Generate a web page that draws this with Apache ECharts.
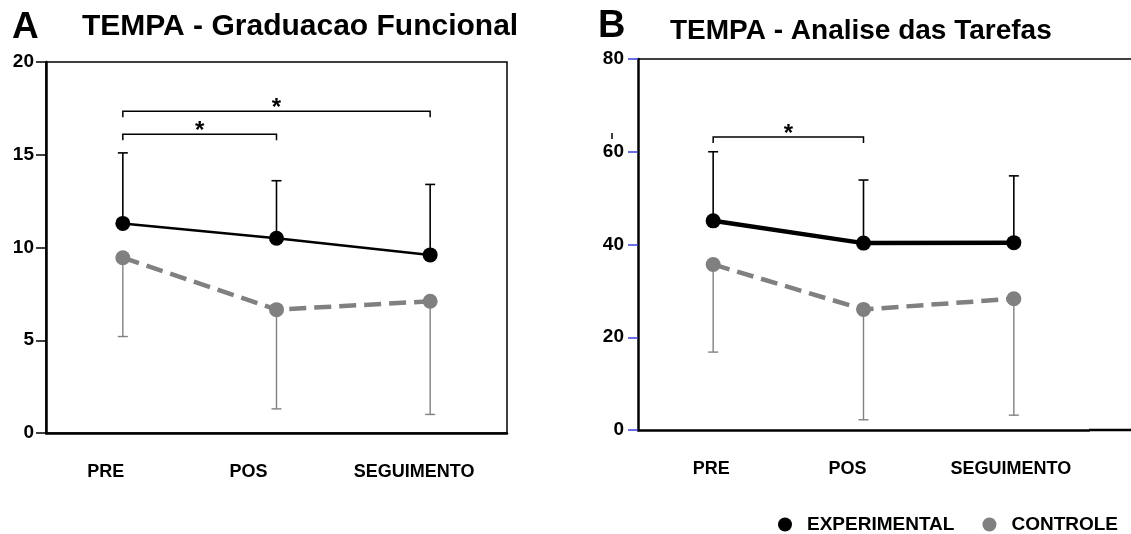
<!DOCTYPE html>
<html>
<head>
<meta charset="utf-8">
<script src="https://cdn.jsdelivr.net/npm/echarts@6/dist/echarts.min.js"></script>
<style>
  html, body { margin: 0; padding: 0; background: #fff; }
  #chart { width: 1131px; height: 534px; }
</style>
</head>
<body>
<div id="chart"></div>
<script>
var categories = ['PRE', 'POS', 'SEGUIMENTO'];

// painel A - Graduacao Funcional
var expA = [11.3, 10.5, 9.6];
var expA_sd = [15.1, 13.6, 13.4];     // topo da barra de erro
var ctlA = [9.45, 6.65, 7.1];
var ctlA_sd = [5.2, 1.3, 1.0];        // base da barra de erro
var sigA = [[0, 2, 17.35], [0, 1, 16.1]];
var ticksA = [0, 5, 10, 15, 20];

// painel B - Analise das Tarefas
var expB = [45.1, 40.3, 40.4];
var expB_sd = [60.0, 53.9, 54.8];
var ctlB = [35.7, 26.0, 28.3];
var ctlB_sd = [16.8, 2.2, 3.2];
var sigB = [[0, 1, 63.2]];
var ticksB = [0, 20, 40, 60, 80];

var FONT = '"Liberation Sans", Arial, sans-serif';
var GREY = '#808080';

function errData(mean, end) {
  return mean.map(function (m, i) { return [i, m, end[i]]; });
}

function errorBar(color, width, half) {
  return function (params, api) {
    var p1 = api.coord([api.value(0), api.value(1)]);
    var p2 = api.coord([api.value(0), api.value(2)]);
    return {
      type: 'group',
      children: [
        { type: 'line', shape: { x1: p1[0], y1: p1[1], x2: p2[0], y2: p2[1] },
          style: { stroke: color, lineWidth: width } },
        { type: 'line', shape: { x1: p2[0] - half, y1: p2[1], x2: p2[0] + half, y2: p2[1] },
          style: { stroke: color, lineWidth: width } }
      ]
    };
  };
}

function bracket(params, api) {
  var a = api.coord([api.value(0), api.value(2)]);
  var b = api.coord([api.value(1), api.value(2)]);
  var drop = 6;
  return {
    type: 'group',
    children: [
      { type: 'polyline',
        shape: { points: [[a[0], a[1] + drop], [a[0], a[1]], [b[0], a[1]], [b[0], a[1] + drop]] },
        style: { stroke: '#000', lineWidth: 1.5, fill: null } },
      { type: 'text',
        style: { x: (a[0] + b[0]) / 2, y: a[1] - 3, text: '*', align: 'center', verticalAlign: 'middle',
                 font: 'bold 24px ' + FONT, fill: '#000' } }
    ]
  };
}

// os rotulos do original nao ficam bem centrados: deslocamento para a esquerda (px)
function xAxis(idx, shift) {
  var rich = {};
  shift.forEach(function (s, i) {
    rich['s' + i] = { padding: [0, 2 * s, 0, 0], color: '#000', fontFamily: FONT, fontWeight: 'bold', fontSize: 18 };
  });
  return {
    type: 'category', gridIndex: idx, data: categories, boundaryGap: true,
    axisLine: { lineStyle: { color: '#000', width: 2.5 } },
    axisTick: { show: false },
    axisLabel: {
      interval: 0, margin: 30, color: '#000', fontFamily: FONT, fontWeight: 'bold', fontSize: 18,
      formatter: function (v, i) { return '{s' + i + '|' + v + '}'; },
      rich: rich
    }
  };
}

function yAxis(idx, ticks, tickColor, margin) {
  return {
    type: 'value', gridIndex: idx,
    min: ticks[0], max: ticks[ticks.length - 1], interval: ticks[1] - ticks[0],
    axisLine: { show: true, lineStyle: { color: '#000', width: 2.5 } },
    axisTick: { show: true, length: 10, lineStyle: { color: tickColor, width: 1.5 } },
    splitLine: { show: false },
    axisLabel: { margin: margin, color: '#000', fontFamily: FONT, fontWeight: 'bold', fontSize: 19 }
  };
}

function panel(idx, exp, expSd, ctl, ctlSd, sig, expWidth) {
  return [
    { type: 'custom', xAxisIndex: idx, yAxisIndex: idx, z: 1, silent: true,
      renderItem: errorBar('#000', 1.6, 5), data: errData(exp, expSd) },
    { type: 'custom', xAxisIndex: idx, yAxisIndex: idx, z: 1, silent: true,
      renderItem: errorBar(GREY, 1.4, 5), data: errData(ctl, ctlSd) },
    { name: 'CONTROLE', type: 'line', xAxisIndex: idx, yAxisIndex: idx, z: 2,
      data: ctl, symbol: 'circle', symbolSize: 15, color: GREY,
      lineStyle: { color: GREY, width: 4.5, type: [17, 8] },
      itemStyle: { color: GREY } },
    { name: 'EXPERIMENTAL', type: 'line', xAxisIndex: idx, yAxisIndex: idx, z: 3,
      data: exp, symbol: 'circle', symbolSize: 15, color: '#000',
      lineStyle: { color: '#000', width: expWidth },
      itemStyle: { color: '#000' } },
    { type: 'custom', xAxisIndex: idx, yAxisIndex: idx, z: 4, silent: true,
      renderItem: bracket, data: sig }
  ];
}

var chart = echarts.init(document.getElementById('chart'), null, { renderer: 'canvas' });

var option = {
  animation: false,
  backgroundColor: '#fff',
  grid: [
    { left: 46, top: 62, right: 624, bottom: 101, show: true, borderColor: '#000', borderWidth: 1.5 },
    { left: 638, top: 59, width: 451, bottom: 104 }
  ],
  xAxis: [xAxis(0, [17, 28, 16]), xAxis(1, [2, 16, 3])],
  yAxis: [yAxis(0, ticksA, '#000', 12), yAxis(1, ticksB, '#3b3bd9', 14)],
  legend: {
    data: ['EXPERIMENTAL', 'CONTROLE'],
    left: 773, top: 510, icon: 'circle', itemWidth: 14, itemHeight: 14, itemGap: 28,
    textStyle: { color: '#000', fontFamily: FONT, fontWeight: 'bold', fontSize: 19, padding: [0, 0, 0, 10] }
  },
  graphic: [
    { type: 'text', left: 12, top: 9, style: { text: 'A', font: 'bold 37px ' + FONT, fill: '#000' } },
    { type: 'text', left: 82, top: 12, style: { text: 'TEMPA - Graduacao Funcional', font: 'bold 30px ' + FONT, fill: '#000' } },
    { type: 'text', left: 598, top: 8, style: { text: 'B', font: 'bold 38px ' + FONT, fill: '#000' } },
    { type: 'text', left: 670, top: 17, style: { text: 'TEMPA - Analise das Tarefas', font: 'bold 28px ' + FONT, fill: '#000' } },
    // caixa do painel B continua ate a borda da imagem
    { type: 'line', shape: { x1: 638, y1: 59, x2: 1131, y2: 59 }, style: { stroke: '#000', lineWidth: 1.5 } },
    { type: 'line', shape: { x1: 1089, y1: 430, x2: 1131, y2: 430 }, style: { stroke: '#000', lineWidth: 2.5 } },
    { type: 'line', shape: { x1: 612, y1: 133, x2: 612, y2: 139 }, style: { stroke: '#000', lineWidth: 1.5 } }
  ],
  series: panel(0, expA, expA_sd, ctlA, ctlA_sd, sigA, 2.5)
    .concat(panel(1, expB, expB_sd, ctlB, ctlB_sd, sigB, 4.5))
};

chart.setOption(option);
window.addEventListener('resize', chart.resize);
</script>
</body>
</html>
